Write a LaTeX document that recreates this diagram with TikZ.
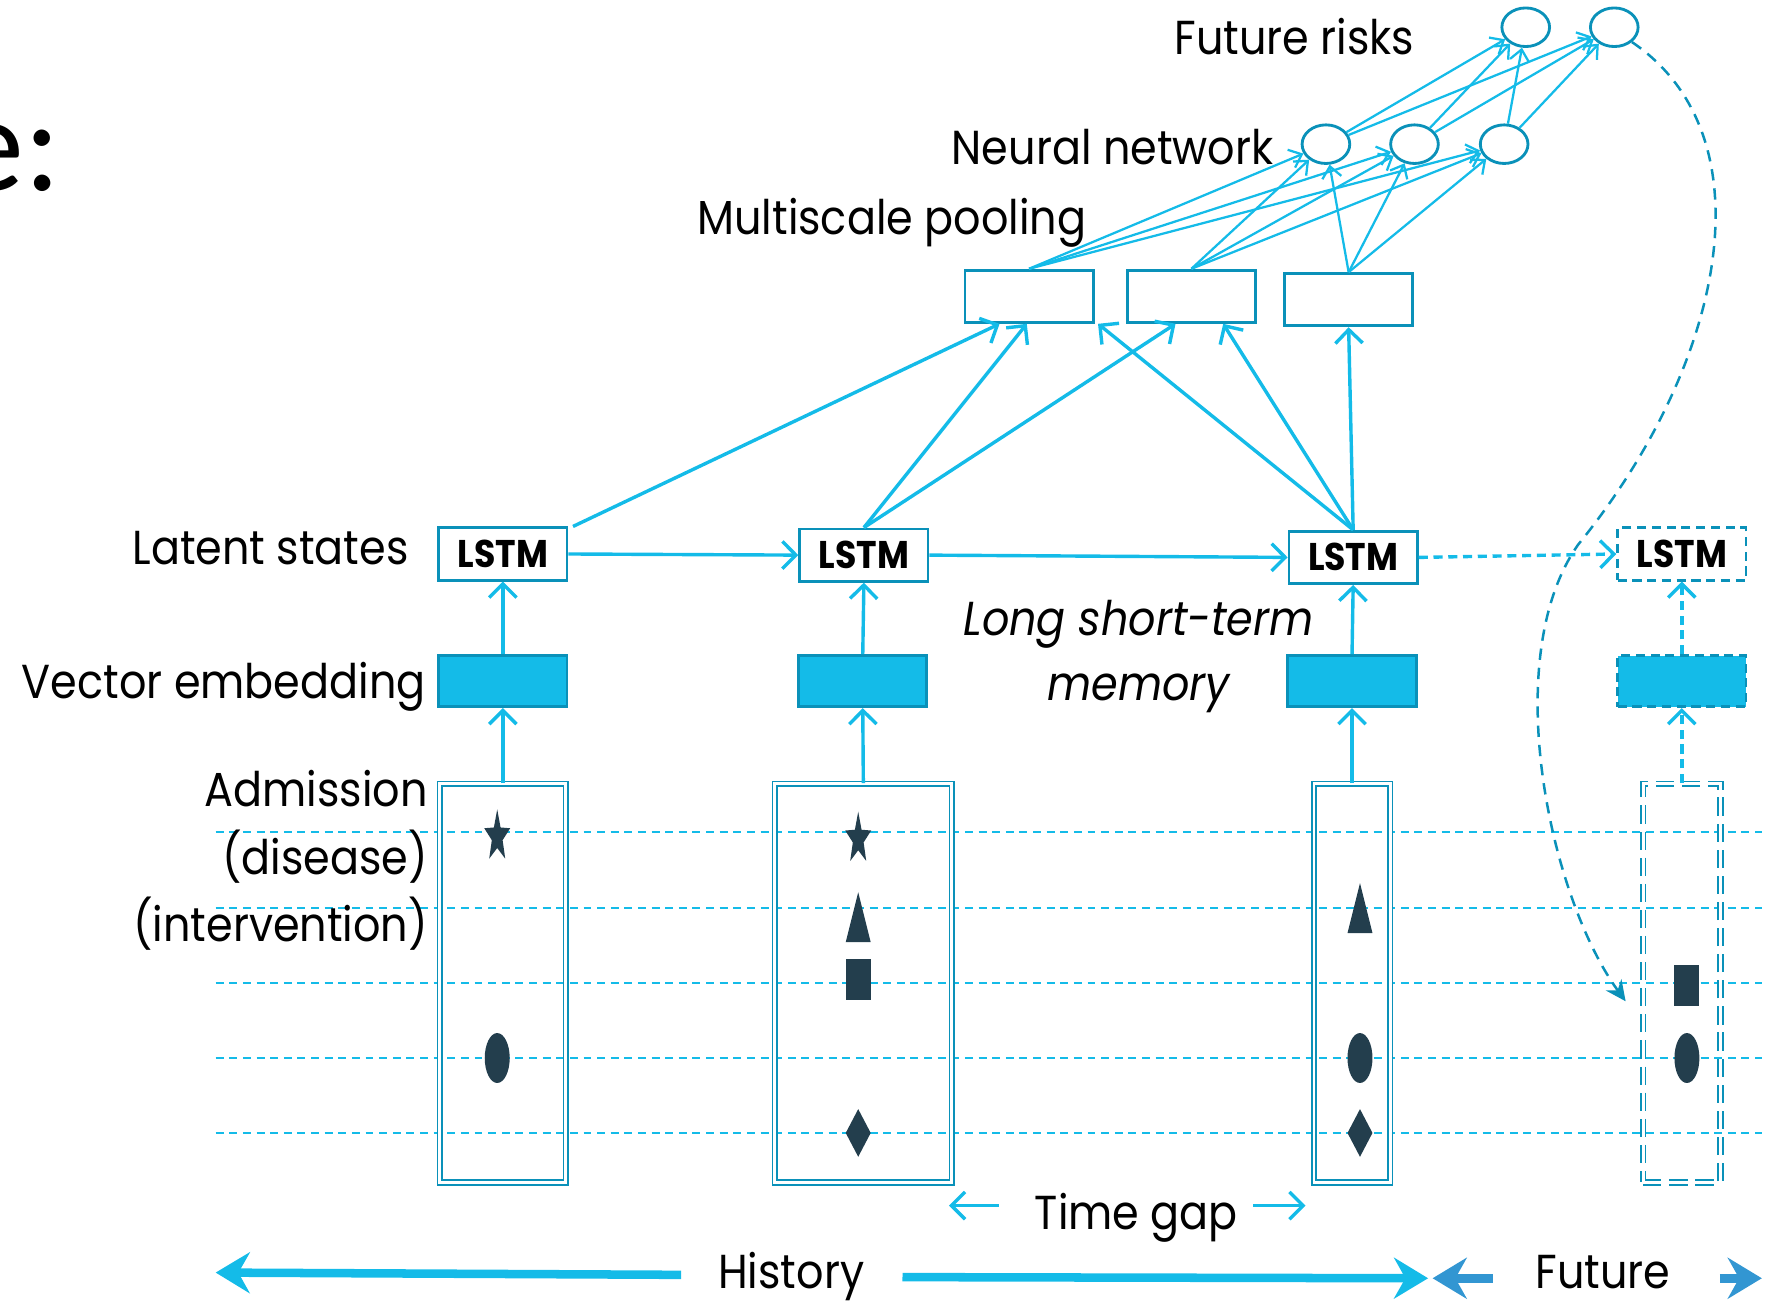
\documentclass[tikz,border=0pt]{standalone}
\usepackage{fontspec}
\setmainfont[FakeStretch=0.9]{Poppins}
\newfontfamily\titlefont{Carlito}
\usetikzlibrary{arrows.meta,shapes.geometric}
\definecolor{cyanl}{RGB}{20,187,232}
\definecolor{tealb}{RGB}{10,145,185}
\definecolor{futb}{RGB}{50,150,210}
\definecolor{symb}{RGB}{35,62,77}
\tikzset{
 lbl/.style={font=\fontsize{42}{50}\selectfont, inner sep=0pt, text=black},
 dsh/.style={dash pattern=on 8pt off 5pt},
 lstmbox/.style={draw=tealb, line width=2.5pt, fill=white, minimum width=113pt, minimum height=46pt, inner sep=0pt, font=\fontsize{34}{34}\selectfont\bfseries},
 embbox/.style={draw=tealb, line width=2.5pt, fill=cyanl, minimum width=113pt, minimum height=45pt, inner sep=0pt},
 admbox/.style={draw=tealb, double=white, double distance=2.6pt, line width=1.5pt, minimum height=351pt, inner sep=0pt},
 poolbox/.style={draw=tealb, line width=2.5pt, fill=white, minimum width=113pt, minimum height=46pt, inner sep=0pt},
 neuron/.style={ellipse, draw=tealb, line width=2.5pt, fill=white, minimum width=42pt, minimum height=34pt, inner sep=0pt},
 conn/.style={draw=cyanl, line width=3pt, -{Straight Barb[length=12pt,width=24pt]}},
 nnconn/.style={draw=cyanl, line width=2pt, -{Straight Barb[length=10pt,width=17pt]}},
 gridline/.style={draw=cyanl, line width=1.4pt, dash pattern=on 7pt off 5pt},
 timeline/.style={line width=7.5pt, -{Stealth[length=30pt,width=36pt,inset=10pt]}},
 starsym/.pic={\fill[symb, xscale=0.5] (-90:24) -- (-54:10) -- (-18:24) -- (18:10) -- (54:24) -- (90:10) -- (126:24) -- (162:10) -- (198:24) -- (234:10) -- cycle;},
 trisym/.pic={\fill[symb] (0,-22) -- (11,22) -- (-11,22) -- cycle;},
 rectsym/.pic={\fill[symb] (-11,-18) rectangle (11,18);},
 ellsym/.pic={\fill[symb] (0,0) ellipse [x radius=11, y radius=22];},
 diasym/.pic={\fill[symb] (0,-21) -- (11,0) -- (0,21) -- (-11,0) -- cycle;},
}
\begin{document}
\begin{tikzpicture}[x=1pt,y=-1pt]
\useasboundingbox (0,0) rectangle (1568,1148);
\begin{scope}
\clip (0,0) rectangle (1568,1148);
\node[font=\titlefont\fontsize{120}{120}\selectfont, anchor=base east, inner sep=0pt] (title) at (54,168) {e:};
\end{scope}

% grid lines
\foreach \i/\y in {1/733,2/800,3/866,4/932,5/998}{
  \coordinate (gl\i) at (190,\y);
  \coordinate (gr\i) at (1552,\y);
  \draw[gridline] (gl\i) -- (gr\i);
}

% admission boxes
\node[admbox, minimum width=111pt] (A1) at (443,866) {};
\node[admbox, minimum width=156pt] (A2) at (760.5,866) {};
\node[admbox, minimum width=67pt] (A3) at (1191,866) {};
\node[admbox, minimum width=68pt, dash pattern=on 16pt off 7pt] (A4) at (1481.5,866) {};

% symbols
\pic at (438,737) {starsym};
\pic at (438,932) {ellsym};
\pic at (756,739) {starsym};
\pic at (756,808) {trisym};
\pic at (756,863) {rectsym};
\pic at (756,998) {diasym};
\pic at (1198,800) {trisym};
\pic at (1198,932) {ellsym};
\pic at (1198,998) {diasym};
\pic at (1486,868) {rectsym};
\pic at (1486,932) {ellsym};

% embeddings
\node[embbox] (E1) at (443,600) {};
\node[embbox] (E2) at (760,600) {};
\node[embbox] (E3) at (1191,600) {};
\node[embbox, dsh] (E4) at (1481.5,600) {};

% LSTMs
\node[lstmbox] (L1) at (443,488) {LSTM};
\node[lstmbox] (L2) at (761,489) {LSTM};
\node[lstmbox] (L3) at (1192,491) {LSTM};
\node[lstmbox, dsh] (L4) at (1481.5,488) {LSTM};

% pooling
\node[poolbox] (P1) at (906.5,261) {};
\node[poolbox] (P2) at (1049.5,261) {};
\node[poolbox] (P3) at (1188,264) {};

% neurons
\node[neuron] (N1) at (1168,127) {};
\node[neuron] (N2) at (1246,127) {};
\node[neuron] (N3) at (1325,127) {};
\node[neuron] (F1) at (1344,24) {};
\node[neuron] (F2) at (1422,24) {};

% vertical connectors
\draw[conn] (A1.north) -- (E1.south);
\draw[conn] (A2.north) -- (E2.south);
\draw[conn] (A3.north) -- (E3.south);
\draw[conn, dsh] (A4.north) -- (E4.south);
\draw[conn] (E1.north) -- (L1.south);
\draw[conn] (E2.north) -- (L2.south);
\draw[conn] (E3.north) -- (L3.south);
\draw[conn, dsh] (E4.north) -- (L4.south);

% horizontal connectors
\draw[conn] (L1.east) -- (L2.west);
\draw[conn] (L2.east) -- (L3.west);
\draw[conn, dsh] (L3.east) -- (L4.west);

% to pooling
\draw[conn] ([xshift=4pt]L1.north east) -- ([xshift=-26pt]P1.south);
\draw[conn] (L2.north) -- ([xshift=-2pt]P1.south);
\draw[conn] (L2.north) -- ([xshift=-14pt]P2.south);
\draw[conn] (L3.north) -- ([xshift=3pt]P1.south east);
\draw[conn] (L3.north) -- ([xshift=28pt]P2.south);
\draw[conn] (L3.north) -- (P3.south);

% pooling to NN
\foreach \p in {P1,P2,P3}{
  \foreach \n in {N1,N2,N3}{
    \draw[nnconn] (\p.north) -- (\n);
  }
}
\foreach \n in {N1,N2,N3}{
  \foreach \f in {F1,F2}{
    \draw[nnconn] (\n) -- (\f);
  }
}

% dashed feedback curve
\coordinate (cEnd) at (1432,882);
\draw[tealb, line width=2.2pt, dash pattern=on 10pt off 7pt, -{Stealth[length=18pt,width=17pt,inset=6pt]}]
  (F2.-40) .. controls (1560,120) and (1520,320) .. (1390,480)
  .. controls (1320,580) and (1365,790) .. (cEnd);

% labels
\node[lbl, anchor=base east] (tFR) at (1246,48) {Future risks};
\node[lbl, anchor=base east] (tNN) at (1122,145) {Neural network};
\node[lbl, anchor=base east] (tMP) at (957,207) {Multiscale pooling};
\node[lbl, anchor=base east] (tLS) at (360,497) {Latent states};
\node[lbl, anchor=base east] (tVE) at (375,615) {Vector embedding};
\node[lbl, anchor=base east] (tAd) at (377,710) {Admission};
\node[lbl, anchor=base east] (tDi) at (377,770) {(disease)};
\node[lbl, anchor=base east] (tIn) at (377,829) {(intervention)};
\node[lbl, anchor=base, font=\fontsize{42}{50}\selectfont\itshape] (tLo) at (1003,560) {Long short-term};
\node[lbl, anchor=base, font=\fontsize{42}{50}\selectfont\itshape] (tMe) at (1003,617) {memory};
\node[lbl, anchor=base] (tTG) at (1001,1083) {Time gap};
\node[lbl, anchor=base] (tHi) at (697,1135) {History};
\node[lbl, anchor=base] (tFu) at (1412,1135) {Future};

% time gap arrows
\coordinate (tg1s) at (880,1062);
\coordinate (tg1e) at (836,1062);
\coordinate (tg2s) at (1104,1062);
\coordinate (tg2e) at (1150,1062);
\draw[conn] (tg1s) -- (tg1e);
\draw[conn] (tg2s) -- (tg2e);

% history / future arrows
\coordinate (h1s) at (600,1123);
\coordinate (h1e) at (190,1121);
\coordinate (h2s) at (795,1125);
\coordinate (h2e) at (1258,1126);
\coordinate (f1s) at (1315,1126);
\coordinate (f1e) at (1262,1126);
\coordinate (f2s) at (1515,1126);
\coordinate (f2e) at (1552,1126);
\draw[timeline, cyanl] (h1s) -- (h1e);
\draw[timeline, cyanl] (h2s) -- (h2e);
\draw[timeline, futb] (f1s) -- (f1e);
\draw[timeline, futb] (f2s) -- (f2e);
\end{tikzpicture}
\end{document}
